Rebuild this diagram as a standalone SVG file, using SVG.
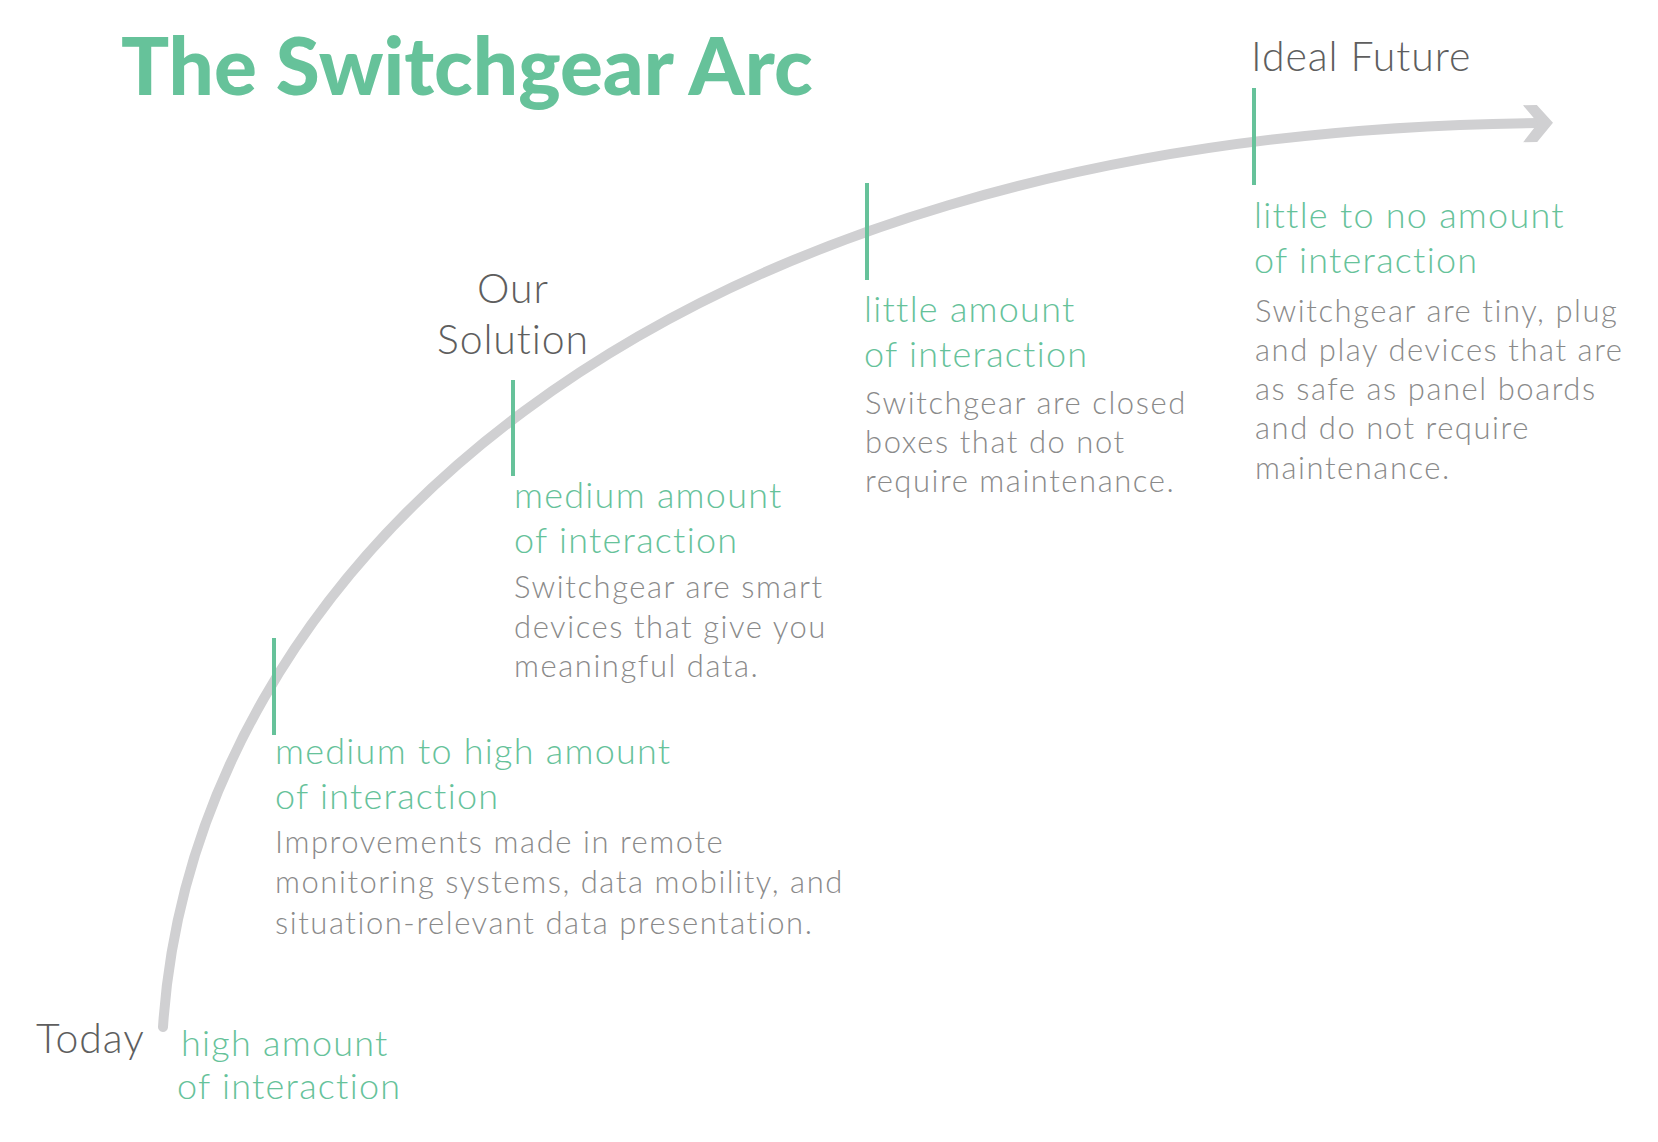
<svg xmlns="http://www.w3.org/2000/svg" width="1658" height="1142" viewBox="0 0 1658 1142">
<style>
  .title { font-family: Lato, "Liberation Sans", sans-serif; font-weight: 900; font-size: 80px; fill: #66c29a; }
  .label { font-family: Lato, "Liberation Sans", sans-serif; font-weight: 300; font-size: 41px; fill: #5e5e5e; letter-spacing: 0.9px; }
  .green { font-family: Lato, "Liberation Sans", sans-serif; font-weight: 300; font-size: 36px; fill: #66c29a; letter-spacing: 1.25px; }
  .body { font-family: Lato, "Liberation Sans", sans-serif; font-weight: 300; font-size: 31px; fill: #8a8a8a; letter-spacing: 1.55px; }
  .tick { stroke: #66c29a; stroke-width: 4; }
  .arc { fill: none; stroke: #d0d0d2; stroke-width: 10; stroke-linecap: round; }
</style>
<defs>
  <marker id="chev" markerUnits="userSpaceOnUse" markerWidth="40" markerHeight="44" refX="15" refY="20" orient="auto" viewBox="0 0 40 40">
    <polygon points="0,2 14,2 30,20 14,39 0,39 15,20" fill="#d0d0d2"/>
  </marker>
</defs>
<rect width="1658" height="1142" fill="#ffffff"/>

<g id="connectors">
  <path class="arc" d="M163,1027 C192,580 640,132 1538,123" marker-end="url(#chev)"/>
</g>

<g id="title">
  <text class="title" x="121" y="95">The Switchgear Arc</text>
</g>

<g id="node-today">
  <text class="label" x="36" y="1053">Today</text>
  <text class="green" x="181" y="1056">high amount</text>
  <text class="green" x="177" y="1099">of interaction</text>
</g>

<g id="node-medium-high">
  <line class="tick" x1="274" y1="638" x2="274" y2="735"/>
  <text class="green" x="275" y="764">medium to high amount</text>
  <text class="green" x="275" y="809">of interaction</text>
  <text class="body" x="275" y="853">Improvements made in remote</text>
  <text class="body" x="275" y="893">monitoring systems, data mobility, and</text>
  <text class="body" x="275" y="934">situation-relevant data presentation.</text>
</g>

<g id="node-solution">
  <text class="label" x="513" y="303" text-anchor="middle">Our</text>
  <text class="label" x="513" y="354" text-anchor="middle">Solution</text>
  <line class="tick" x1="513" y1="380" x2="513" y2="476"/>
  <text class="green" x="514" y="508">medium amount</text>
  <text class="green" x="514" y="553">of interaction</text>
  <text class="body" x="514" y="598">Switchgear are smart</text>
  <text class="body" x="514" y="638">devices that give you</text>
  <text class="body" x="514" y="677">meaningful data.</text>
</g>

<g id="node-little">
  <line class="tick" x1="867" y1="183" x2="867" y2="280"/>
  <text class="green" x="864" y="322">little amount</text>
  <text class="green" x="864" y="367">of interaction</text>
  <text class="body" x="865" y="414">Switchgear are closed</text>
  <text class="body" x="865" y="453">boxes that do not</text>
  <text class="body" x="865" y="492">require maintenance.</text>
</g>

<g id="node-ideal">
  <text class="label" x="1251" y="71">Ideal Future</text>
  <line class="tick" x1="1254" y1="88" x2="1254" y2="185"/>
  <text class="green" x="1254" y="228">little to no amount</text>
  <text class="green" x="1254" y="273">of interaction</text>
  <text class="body" x="1255" y="322">Switchgear are tiny, plug</text>
  <text class="body" x="1255" y="361">and play devices that are</text>
  <text class="body" x="1255" y="400">as safe as panel boards</text>
  <text class="body" x="1255" y="439">and do not require</text>
  <text class="body" x="1255" y="479">maintenance.</text>
</g>
</svg>
